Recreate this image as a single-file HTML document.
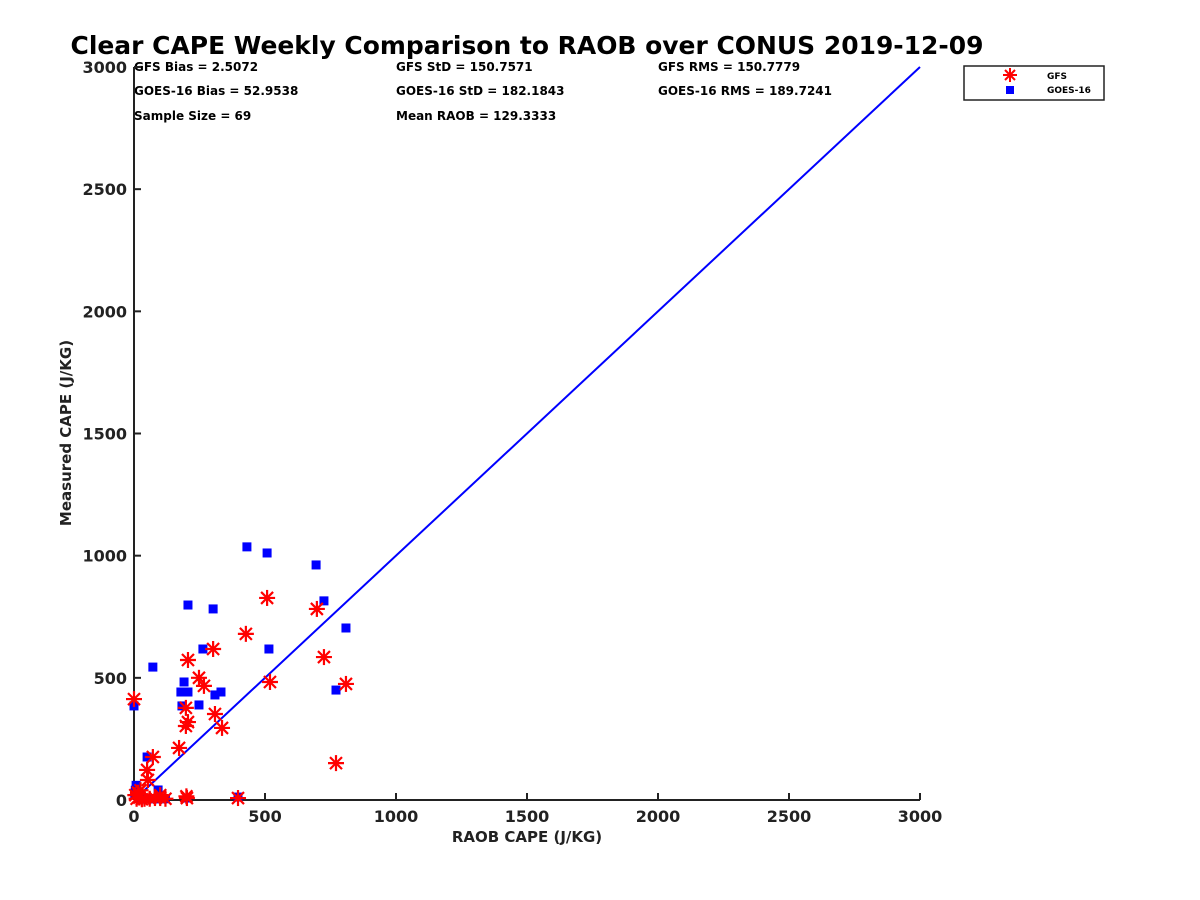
<!DOCTYPE html>
<html><head><meta charset="utf-8"><style>
body{margin:0;background:#fff;}
svg{display:block;font-family:"DejaVu Sans","Liberation Sans",sans-serif;font-weight:bold;}
</style></head><body>
<svg id="chart" width="1200" height="900">
<rect width="1200" height="900" fill="#fff"/>
<text x="527" y="54" text-anchor="middle" font-size="25" fill="#000" textLength="913" lengthAdjust="spacingAndGlyphs">Clear CAPE Weekly Comparison to RAOB over CONUS 2019-12-09</text>
<g font-size="12" fill="#000">
<text x="134" y="71">GFS Bias = 2.5072</text>
<text x="134" y="95">GOES-16 Bias = 52.9538</text>
<text x="134" y="120">Sample Size = 69</text>
<text x="396" y="71">GFS StD = 150.7571</text>
<text x="396" y="95">GOES-16 StD = 182.1843</text>
<text x="396" y="120">Mean RAOB = 129.3333</text>
<text x="658" y="71">GFS RMS = 150.7779</text>
<text x="658" y="95">GOES-16 RMS = 189.7241</text>
</g>
<g id="axes"></g>
<g id="marks"></g>
<g>
<rect x="964" y="66" width="140" height="34" fill="#fff" stroke="#222" stroke-width="1.5"/>
<g stroke="#f00" stroke-width="2">
<line x1="1003" y1="75" x2="1017" y2="75"/><line x1="1010" y1="68" x2="1010" y2="82"/><line x1="1005" y1="70" x2="1015" y2="80"/><line x1="1015" y1="70" x2="1005" y2="80"/></g>
<rect x="1006" y="86" width="8" height="8" fill="#00f"/>
<text x="1047" y="79" font-size="9">GFS</text>
<text x="1047" y="93" font-size="9">GOES-16</text>
</g>
<text x="527" y="842" text-anchor="middle" font-size="15" fill="#222">RAOB CAPE (J/KG)</text>
<text transform="translate(71,433) rotate(-90)" text-anchor="middle" font-size="15" fill="#222">Measured CAPE (J/KG)</text>
</svg>
<script>
const xTicks=[0,500,1000,1500,2000,2500,3000];
const yTicks=[0,500,1000,1500,2000,2500,3000];
const gfsX=[0,50,72,172,206,248,267,302,427,508,698,725,809,519,771,309,336,198,198,206,397,202,100,53,10,20,30,5,15,40,60,80,120,25,200,100];
const gfsY=[413,123,176,213,573,500,467,618,680,827,782,585,475,483,151,352,295,377,303,319,8,8,8,82,5,10,3,20,30,5,5,8,5,40,15,20];
const goesX=[0,72,50,431,508,695,725,809,771,515,206,302,263,248,191,179,206,309,332,183,92,202,397,5,8,15,20,30,40,50,60,80,100,120,10,3];
const goesY=[385,544,176,1036,1011,962,815,704,450,618,798,782,618,389,483,442,442,430,442,385,41,8,12,40,60,30,20,10,5,5,5,5,5,5,50,20];
const lineX=[40,3000];
const lineY=[40,3000];
const X=v=>134+v*(786/3000), Y=v=>800-v*(733/3000);
const NS="http://www.w3.org/2000/svg";
const ax=document.getElementById('axes'), mk=document.getElementById('marks');
function el(t,a,p){const e=document.createElementNS(NS,t);for(const k in a)e.setAttribute(k,a[k]);p.appendChild(e);return e;}
const xa=el('line',{x1:134,y1:800,x2:920,y2:800,stroke:'#222','stroke-width':2},ax);


const ya=el('line',{x1:134,y1:800,x2:134,y2:67,stroke:'#222','stroke-width':2},ax);


xTicks.forEach(t=>{el('line',{x1:X(t),y1:800,x2:X(t),y2:793,stroke:'#222','stroke-width':2},ax);
const tx=el('text',{x:X(t),y:822,'text-anchor':'middle','font-size':16,fill:'#222'},ax);tx.textContent=t;

});
yTicks.forEach(t=>{el('line',{x1:134,y1:Y(t),x2:141,y2:Y(t),stroke:'#222','stroke-width':2},ax);
const tx=el('text',{x:127,y:Y(t)+6,'text-anchor':'end','font-size':16,fill:'#222'},ax);tx.textContent=t;

});
const ln=el('polyline',{points:lineX.map((v,i)=>X(v)+','+Y(lineY[i])).join(' '),fill:'none',stroke:'#00f','stroke-width':2},mk);


goesX.forEach((v,i)=>{const r=el('rect',{x:X(v)-4.5,y:Y(goesY[i])-4.5,width:9,height:9,fill:'#00f'},mk);

});
gfsX.forEach((v,i)=>{const cx=X(v),cy=Y(gfsY[i]);const g=el('g',{stroke:'#f00','stroke-width':2.2},mk);


el('line',{x1:cx-8,y1:cy,x2:cx+8,y2:cy},g);el('line',{x1:cx,y1:cy-8,x2:cx,y2:cy+8},g);
el('line',{x1:cx-6,y1:cy-6,x2:cx+6,y2:cy+6},g);el('line',{x1:cx+6,y1:cy-6,x2:cx-6,y2:cy+6},g);});
</script>
</body></html>
